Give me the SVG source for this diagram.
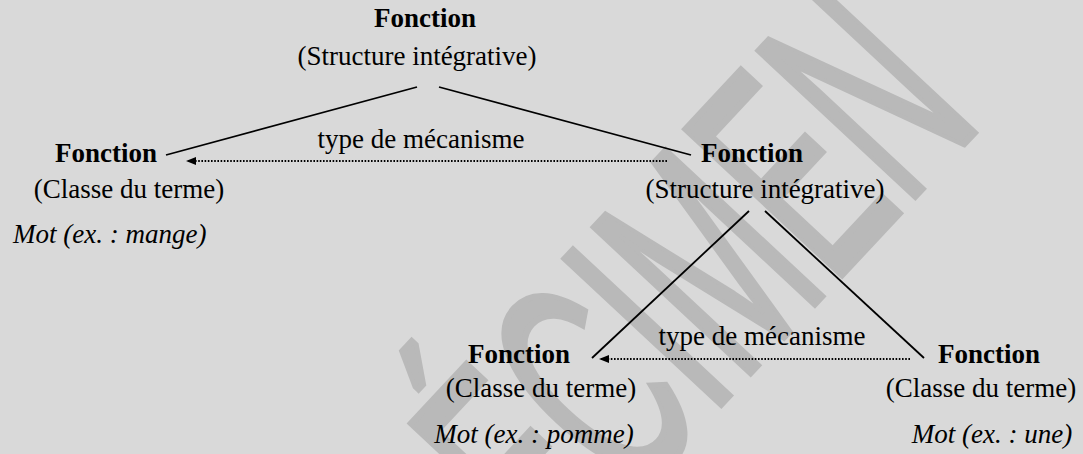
<svg xmlns="http://www.w3.org/2000/svg" width="1083" height="454" viewBox="0 0 1083 454">
<defs>
<style>
.t{font-family:'Liberation Serif','Times New Roman',serif;font-size:27px;fill:#000}
.b{font-weight:bold}
.i{font-style:italic}
.c{text-anchor:middle}
.ln{stroke:#000;stroke-width:1.8;fill:none}
.dot{stroke:#000;stroke-width:2;stroke-dasharray:1.6 1.6;fill:none}
.wm{font-family:'Liberation Sans',Arial,sans-serif;font-size:230px;fill:#b9b9b9;stroke:#b9b9b9;stroke-width:5;stroke-linejoin:miter}
</style>
<marker id="ah" viewBox="0 0 10 8" refX="9" refY="4" markerWidth="10" markerHeight="8" markerUnits="userSpaceOnUse" orient="auto">
<path d="M0,0 L10,4 L0,8 Z" fill="#000"/>
</marker>
</defs>
<rect width="1083" height="454" fill="#d9d9d9"/>
<text class="wm" transform="translate(411,737) rotate(-47) scale(0.7,1.35)">SPÉCIMEN</text>
<g id="connectors">
<line class="ln" x1="417" y1="87" x2="166" y2="155"/>
<line class="ln" x1="439" y1="87" x2="691" y2="155"/>
<line class="dot" x1="667" y1="161" x2="187" y2="161" marker-end="url(#ah)"/>
<text class="t c" x="421" y="148">type de mécanisme</text>
<line class="ln" x1="749" y1="211" x2="592" y2="358"/>
<line class="ln" x1="765" y1="211" x2="924" y2="358"/>
<line class="dot" x1="910" y1="359" x2="600" y2="359" marker-end="url(#ah)"/>
<text class="t c" x="762" y="345">type de mécanisme</text>
</g>
<g id="n-top">
<text class="t b c" x="425" y="27">Fonction</text>
<text class="t c" x="417" y="65">(Structure intégrative)</text>
</g>
<g id="n-left">
<text class="t b c" x="106" y="162">Fonction</text>
<text class="t c" x="129" y="198">(Classe du terme)</text>
<text class="t i" x="13" y="243">Mot (ex. : mange)</text>
</g>
<g id="n-right">
<text class="t b c" x="752" y="162">Fonction</text>
<text class="t c" x="765" y="198">(Structure intégrative)</text>
</g>
<g id="n-bl">
<text class="t b c" x="519" y="363">Fonction</text>
<text class="t c" x="541" y="397">(Classe du terme)</text>
<text class="t i c" x="534" y="443">Mot (ex. : pomme)</text>
</g>
<g id="n-br">
<text class="t b c" x="989" y="363">Fonction</text>
<text class="t c" x="981" y="397">(Classe du terme)</text>
<text class="t i c" x="992" y="443">Mot (ex. : une)</text>
</g>
</svg>
